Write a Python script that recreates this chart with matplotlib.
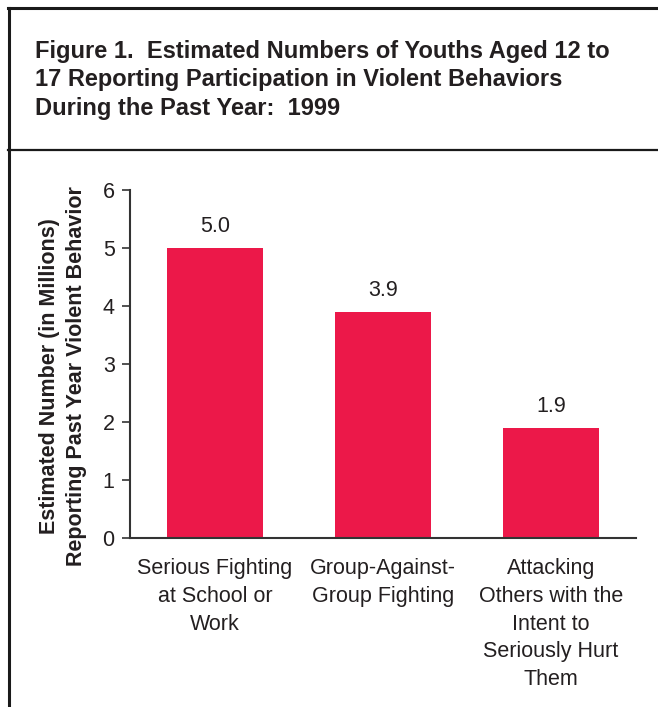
import matplotlib
matplotlib.use("Agg")
import matplotlib.pyplot as plt
from matplotlib.lines import Line2D

categories = ["Serious Fighting\nat School or\nWork",
              "Group-Against-\nGroup Fighting",
              "Attacking\nOthers with the\nIntent to\nSeriously Hurt\nThem"]
values = [5.0, 3.9, 1.9]
value_labels = ["5.0", "3.9", "1.9"]
yticks = [0, 1, 2, 3, 4, 5, 6]

title = ("Figure 1.  Estimated Numbers of Youths Aged 12 to\n"
         "17 Reporting Participation in Violent Behaviors\n"
         "During the Past Year:  1999")
ylabel = "Estimated Number (in Millions)\nReporting Past Year Violent Behavior"

plt.rcParams['font.family'] = ['Liberation Sans', 'DejaVu Sans']
TXT = '#231F20'
BAR = '#EC1849'

W, H = 658, 707
fig = plt.figure(figsize=(W / 100, H / 100), dpi=100)

def fx(px):
    return px / W

def fy(py):
    return 1 - py / H

# frame lines
fig.add_artist(Line2D([fx(8), 1], [fy(8), fy(8)], color='#1a1a1a', lw=2.2))
fig.add_artist(Line2D([fx(9), fx(9)], [fy(8), 0], color='#1a1a1a', lw=2.2))
fig.add_artist(Line2D([fx(8), 1], [fy(150), fy(150)], color='#1a1a1a', lw=1.6))

fig.text(fx(35), fy(40), title, fontsize=17, fontweight='bold', color=TXT,
         va='top', ha='left', linespacing=1.3)

ax = fig.add_axes([fx(130), fy(538), fx(636) - fx(130), fy(190) - fy(538)])
x = list(range(len(values)))
ax.bar(x, values, width=0.57, color=BAR, zorder=2)
for xi, v, lab in zip(x, values, value_labels):
    ax.annotate(lab, (xi, v), xytext=(0, 11.5), textcoords='offset points',
                ha='center', va='baseline', fontsize=15.5, color=TXT)

ax.set_xlim(-0.506, 2.506)
ax.set_ylim(0, 6)
ax.set_yticks(yticks)
ax.set_yticklabels([str(t) for t in yticks], fontsize=15.5, color=TXT)
ax.set_xticks(x)
ax.set_xticklabels(categories, fontsize=15.5, color=TXT, linespacing=1.42, va='top')
ax.tick_params(axis='x', length=0, pad=14.5)
ax.tick_params(axis='y', length=6, width=1.2, color='#333333', direction='out', pad=5)
for s in ['top', 'right']:
    ax.spines[s].set_visible(False)
for s in ['left', 'bottom']:
    ax.spines[s].set_color('#333333')
    ax.spines[s].set_linewidth(1.5)

fig.text(fx(63), fy(376), ylabel, rotation=90, fontsize=15.5, fontweight='bold',
         color=TXT, ha='center', va='center', multialignment='center', linespacing=1.42)

fig.savefig('out.png', dpi=100)
